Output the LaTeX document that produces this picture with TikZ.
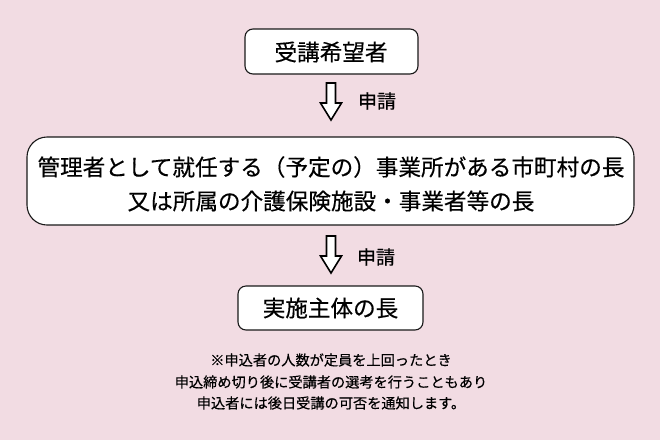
\documentclass[tikz,border=0pt]{standalone}
\usepackage{fontspec}
\setmainfont[FakeBold=0.4,BoldFont={Noto Sans CJK JP}]{Noto Sans CJK JP}
\definecolor{bg}{HTML}{F2DCE3}
\tikzset{
  box/.style={draw=black!90, line width=1.1pt, fill=white, rounded corners=8pt, inner sep=0pt},
  big/.style={font=\fontsize{22.6}{26}\selectfont, inner sep=0pt},
  lbl/.style={font=\fontsize{19}{22}\selectfont, inner sep=0pt},
  note/.style={font=\fontsize{14.2}{16}\selectfont, inner sep=0pt},
  blockarrow/.pic={\draw[line width=1.6pt, fill=white, line join=miter]
     (-4.5,0) -- (4.5,0) -- (4.5,20) -- (10.5,20) -- (0,37) -- (-10.5,20) -- (-4.5,20) -- cycle;}
}
\begin{document}
\begin{tikzpicture}[x=1pt,y=-1pt]
\fill[bg] (0,0) rectangle (660,440);
\useasboundingbox (0,0) rectangle (660,440);
% box 1
\node[box, minimum width=173pt, minimum height=45pt] (b1) at (331.5,51.5) {};
\node[big] (t1) at (331,52) {受講希望者};
% arrow 1
\coordinate (a1) at (331,83);
\pic at (a1) {blockarrow};
\node[lbl] (l1) at (377,101) {申請};
% box 2
\node[box, rounded corners=20pt, minimum width=607pt, minimum height=88pt] (b2) at (330.5,181) {};
\node[big] (t2a) at (331,167) {管理者として就任する（予定の）事業所がある市町村の長};
\node[big] (t2b) at (331,201) {又は所属の介護保険施設・事業者等の長};
% arrow 2
\coordinate (a2) at (331,236);
\pic at (a2) {blockarrow};
\node[lbl] (l2) at (376,257) {申請};
% box 3
\node[box, minimum width=185pt, minimum height=44pt] (b3) at (330.5,308) {};
\node[big] (t3) at (330.5,308) {実施主体の長};
% notes
\node[note] (n1) at (331,360) {※申込者の人数が定員を上回ったとき};
\node[note] (n2) at (331,382) {申込締め切り後に受講者の選考を行うこともあり};
\node[note] (n3) at (331,403) {申込者には後日受講の可否を通知します。};
\end{tikzpicture}
\end{document}
